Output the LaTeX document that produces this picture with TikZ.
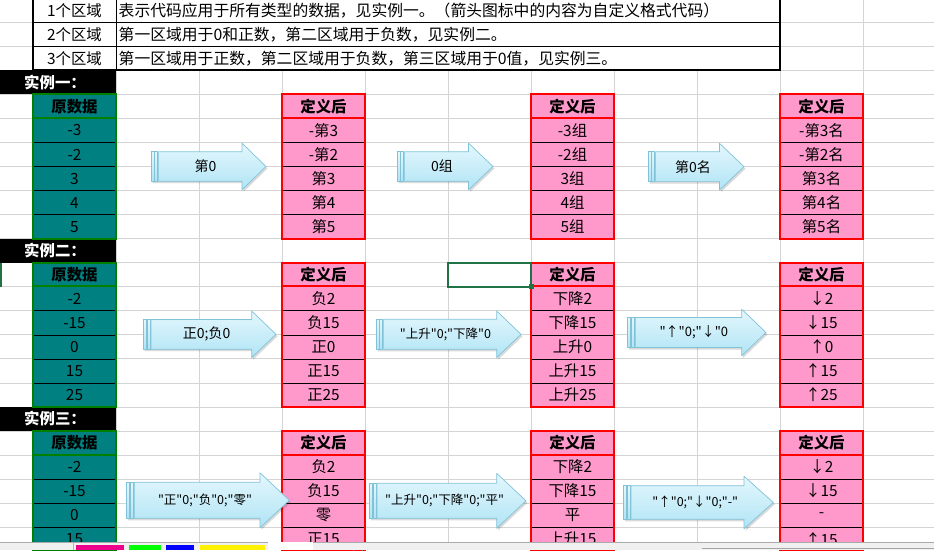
\documentclass[tikz,border=0pt]{standalone}
\usepackage{fontspec}
\setmainfont{Noto Sans CJK SC}[Ligatures=TeXOff]
\usetikzlibrary{calc}
\definecolor{gridgray}{RGB}{212,212,212}
\definecolor{tealfill}{RGB}{0,128,128}
\definecolor{greenframe}{RGB}{0,128,0}
\definecolor{pinkfill}{RGB}{255,153,204}
\definecolor{redframe}{RGB}{255,0,0}
\definecolor{arrowtop}{RGB}{228,247,253}
\definecolor{arrowbot}{RGB}{176,228,245}
\definecolor{arrowedge}{RGB}{128,194,216}
\definecolor{selgreen}{RGB}{33,115,70}
\definecolor{tabgray}{RGB}{240,240,240}

\begin{document}
\begin{tikzpicture}[
    x=1pt, y=-1pt,
    declare function={rowy(\k)=22.3+24.04*\k; colx(\k)=33+83*\k;},
    every node/.style={inner sep=0pt, font=\fontsize{15.4}{15.4}\selectfont},
    gridline/.style={draw=gridgray, line width=0.8pt},
    cellbase/.style={minimum width=83pt, minimum height=24.04pt, draw=black, line width=0.6pt},
    datacell/.style={cellbase, fill=tealfill},
    defcell/.style={cellbase, fill=pinkfill},
    datahead/.style={cellbase, fill=tealfill, draw=greenframe, line width=2pt, font=\fontsize{15.4}{15.4}\selectfont\bfseries},
    defhead/.style={cellbase, fill=pinkfill, draw=redframe, line width=2pt, font=\fontsize{15.4}{15.4}\selectfont\bfseries},
    greenbox/.style={draw=greenframe, line width=2pt},
    redbox/.style={draw=redframe, line width=2pt},
    desctext/.style={anchor=west, font=\fontsize{15.8}{15.8}\selectfont},
    exlabel/.style={anchor=west, text=white, font=\fontsize{15.4}{15.4}\selectfont\bfseries},
    arrowbody/.style={top color=arrowtop, bottom color=arrowbot, draw=arrowedge, line width=0.7pt, line join=round},
    arrowshadow/.style={fill=black, opacity=0.15}
]
\useasboundingbox (0,0) rectangle (934,550);

% Sheet grid
\foreach \c in {0,...,10}
    \draw[gridline] ({colx(\c)},0) -- ({colx(\c)},542);
\foreach \r in {0,...,21}
    \draw[gridline] (0,{rowy(\r)}) -- (934,{rowy(\r)});

% Explanation table
\fill[white] ({colx(0)},0) rectangle ({colx(9)},{rowy(2)});
\foreach \t/\d [count=\i from -1] in {
    1个区域/表示代码应用于所有类型的数据，见实例一。（箭头图标中的内容为自定义格式代码）,
    2个区域/第一区域用于0和正数，第二区域用于负数，见实例二。,
    3个区域/第一区域用于正数，第二区域用于负数，第三区域用于0值，见实例三。} {
    \node (zone\i) at (74.5,{rowy(\i)+12.02}) {\t};
    \node[desctext] (desc\i) at (118.5,{rowy(\i)+12.02}) {\d};
}
\draw[line width=0.8pt] ({colx(1)},0) -- ({colx(1)},{rowy(2)});
\foreach \r in {0,1}
    \draw[line width=0.8pt] ({colx(0)},{rowy(\r)}) -- ({colx(9)},{rowy(\r)});
\draw[line width=2pt] ({colx(0)},0) -- ({colx(0)},{rowy(2)}) -- ({colx(9)},{rowy(2)}) -- ({colx(9)},0);

% Example labels
\foreach \lab/\r in {实例一：/2, 实例二：/9, 实例三：/16} {
    \fill[black] (0,{rowy(\r)}) rectangle ({colx(1)},{rowy(\r+1)});
    \node[exlabel] (lab\r) at (24,{rowy(\r)+12.02}) {\lab};
}

% Example one
\node[datahead] (h1a) at (74.5,{rowy(3)+12.02}) {原数据};
\node[defhead] (h1b) at (323.5,{rowy(3)+12.02}) {定义后};
\node[defhead] (h1c) at (572.5,{rowy(3)+12.02}) {定义后};
\node[defhead] (h1d) at (821.5,{rowy(3)+12.02}) {定义后};
\foreach \va/\vb/\vc/\vd [count=\i] in {-3/-第3/-3组/-第3名, -2/-第2/-2组/-第2名, 3/第3/3组/第3名, 4/第4/4组/第4名, 5/第5/5组/第5名} {
    \node[datacell] (a1\i) at (74.5,{rowy(3+\i)+12.02}) {\va};
    \node[defcell] (b1\i) at (323.5,{rowy(3+\i)+12.02}) {\vb};
    \node[defcell] (c1\i) at (572.5,{rowy(3+\i)+12.02}) {\vc};
    \node[defcell] (d1\i) at (821.5,{rowy(3+\i)+12.02}) {\vd};
}
\draw[greenbox] (a11.north west) rectangle (a15.south east);
\draw[redbox] (b11.north west) rectangle (b15.south east);
\draw[redbox] (c11.north west) rectangle (c15.south east);
\draw[redbox] (d11.north west) rectangle (d15.south east);

% Example two
\node[datahead] (h2a) at (74.5,{rowy(10)+12.02}) {原数据};
\node[defhead] (h2b) at (323.5,{rowy(10)+12.02}) {定义后};
\node[defhead] (h2c) at (572.5,{rowy(10)+12.02}) {定义后};
\node[defhead] (h2d) at (821.5,{rowy(10)+12.02}) {定义后};
\foreach \va/\vb/\vc/\vd [count=\i] in {-2/负2/下降2/↓2, -15/负15/下降15/↓15, 0/正0/上升0/↑0, 15/正15/上升15/↑15, 25/正25/上升25/↑25} {
    \node[datacell] (a2\i) at (74.5,{rowy(10+\i)+12.02}) {\va};
    \node[defcell] (b2\i) at (323.5,{rowy(10+\i)+12.02}) {\vb};
    \node[defcell] (c2\i) at (572.5,{rowy(10+\i)+12.02}) {\vc};
    \node[defcell] (d2\i) at (821.5,{rowy(10+\i)+12.02}) {\vd};
}
\draw[greenbox] (a21.north west) rectangle (a25.south east);
\draw[redbox] (b21.north west) rectangle (b25.south east);
\draw[redbox] (c21.north west) rectangle (c25.south east);
\draw[redbox] (d21.north west) rectangle (d25.south east);

% Example three
\node[datahead] (h3a) at (74.5,{rowy(17)+12.02}) {原数据};
\node[defhead] (h3b) at (323.5,{rowy(17)+12.02}) {定义后};
\node[defhead] (h3c) at (572.5,{rowy(17)+12.02}) {定义后};
\node[defhead] (h3d) at (821.5,{rowy(17)+12.02}) {定义后};
\foreach \va/\vb/\vc/\vd [count=\i] in {-2/负2/下降2/↓2, -15/负15/下降15/↓15, 0/零/平/-, 15/正15/上升15/↑15} {
    \node[datacell] (a3\i) at (74.5,{rowy(17+\i)+12.02}) {\va};
    \node[defcell] (b3\i) at (323.5,{rowy(17+\i)+12.02}) {\vb};
    \node[defcell] (c3\i) at (572.5,{rowy(17+\i)+12.02}) {\vc};
    \node[defcell] (d3\i) at (821.5,{rowy(17+\i)+12.02}) {\vd};
}
\draw[greenbox] (a31.north west) rectangle (a34.south east);
\draw[redbox] (b31.north west) rectangle (b34.south east);
\draw[redbox] (c31.north west) rectangle (c34.south east);
\draw[redbox] (d31.north west) rectangle (d34.south east);

% Selected cell
\draw[selgreen, line width=1.6pt] ({colx(5)},{rowy(10)}) rectangle ({colx(6)},{rowy(11)});
\fill[selgreen] ({colx(6)-2.5},{rowy(11)-2.5}) rectangle ({colx(6)+2.5},{rowy(11)+2.5});
\fill[selgreen] (0,{rowy(10)}) rectangle (2,{rowy(11)});

% Format code arrows
\foreach \xa/\xb/\xt/\yc/\bh/\hh/\fs/\txt [count=\n] in {
    151/242/266/166.5/14.7/23.4/14/第0,
    397/468.5/493/166.5/14.7/23.4/14/0组,
    648/719.5/744/166.7/14.9/23.4/14/第0名,
    143.3/251.7/276/334.3/14.9/23.3/14/正0;负0,
    376/496.7/521/334.3/15/23.3/12.5/"上升"0;"下降"0,
    627.7/741.7/766/332.5/15/23.3/13/"↑"0;"↓"0,
    126.7/260/289.3/500.3/18/27.5/12.5/"正"0;"负"0;"零",
    369.3/496.7/526/500.8/17.5/27.5/12.5/"上升"0;"下降"0;"平",
    623.3/744/773.3/502.5/16.8/26.3/12.5/"↑"0;"↓"0;"-"} {
    \fill[arrowshadow, shift={(1.5,2)}] ({\xa},{\yc-\bh}) -- ({\xb},{\yc-\bh}) -- ({\xb},{\yc-\hh}) -- ({\xt},{\yc})
        -- ({\xb},{\yc+\hh}) -- ({\xb},{\yc+\bh}) -- ({\xa},{\yc+\bh}) -- cycle;
    \draw[arrowbody] ({\xa},{\yc-\bh}) rectangle ({\xa+3},{\yc+\bh});
    \draw[arrowbody] ({\xa+3.8},{\yc-\bh}) rectangle ({\xa+6.8},{\yc+\bh});
    \draw[arrowbody] ({\xa+7.6},{\yc-\bh}) -- ({\xb},{\yc-\bh}) -- ({\xb},{\yc-\hh}) -- ({\xt},{\yc})
        -- ({\xb},{\yc+\hh}) -- ({\xb},{\yc+\bh}) -- ({\xa+7.6},{\yc+\bh}) -- cycle;
    \node[font=\fontsize{\fs}{\fs}\selectfont] (code\n) at ({(\xa+\xt)/2-3},{\yc}) {\txt};
}

% Sheet tabs
\fill[tabgray] (0,542) rectangle (934,550);
\draw[gridgray!80!black, line width=0.8pt] (0,542) -- (934,542);
\draw[gray!60, line width=0.8pt] (73,542) -- (73,550);
\fill[magenta] (76,545) rectangle (124,550);
\fill[green] (129,545) rectangle (161,550);
\fill[blue] (166,545) rectangle (194,550);
\fill[yellow] (200,545) rectangle (265,550);
\fill[white] (268,541.5) rectangle (313,550);
\draw[gray, line width=0.8pt] (358,550) ++(-4.5,0) arc[start angle=180, end angle=0, radius=4.5];
\draw[gray!70, line width=1pt] (702,548.5) -- (934,548.5);
\end{tikzpicture}
\end{document}
